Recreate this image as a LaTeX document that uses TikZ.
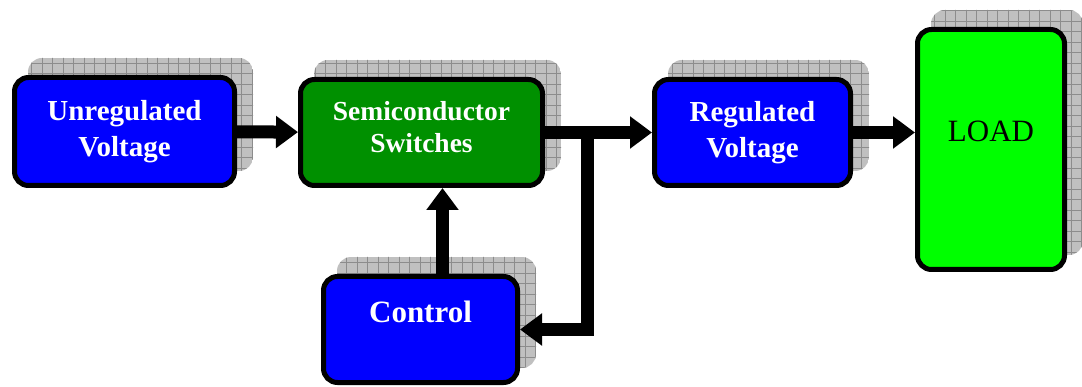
\documentclass[tikz,border=0pt]{standalone}
\usepackage{fontspec}
\setmainfont{Liberation Serif}
\usetikzlibrary{arrows.meta,backgrounds}
\definecolor{boxblue}{RGB}{0,0,255}
\definecolor{switchgreen}{RGB}{0,144,0}
\definecolor{loadgreen}{RGB}{0,255,0}
\definecolor{shadegray}{RGB}{192,192,192}
\definecolor{gridgray}{RGB}{140,140,140}

\begin{document}
\begin{tikzpicture}[x=1pt,y=-1pt,
  block/.style={draw=black,line width=5pt,rounded corners=14pt,text=white,align=center,inner sep=0pt},
  flow/.style={line width=13pt,-{Triangle[width=31pt,length=22pt]}}]
\useasboundingbox (0,0) rectangle (1082,387);

\node[block,fill=boxblue,minimum width=220pt,minimum height=108pt,font=\bfseries\fontsize{29}{36}\selectfont] (unreg) at (124.5,131.5) {Unregulated\\Voltage};
\node[block,fill=switchgreen,minimum width=242pt,minimum height=106pt,font=\bfseries\fontsize{27.5}{32}\selectfont,text depth=12pt] (switch) at (421.5,132.5) {Semiconductor\\Switches};
\node[block,fill=boxblue,minimum width=194pt,minimum height=106pt,font=\bfseries\fontsize{31}{36}\selectfont,text height=21pt,text depth=35pt] (ctrl) at (420.5,329.5) {Control};
\node[block,fill=boxblue,minimum width=196pt,minimum height=106pt,font=\bfseries\fontsize{29}{36}\selectfont] (reg) at (752.5,132.5) {Regulated\\Voltage};
\node[block,fill=loadgreen,text=black,minimum width=147pt,minimum height=240pt,font=\fontsize{31}{36}\selectfont,text height=21pt,text depth=36pt] (load) at (991,149.5) {LOAD};

\begin{scope}[on background layer]
\foreach \n in {unreg,switch,ctrl,reg,load}{
  \begin{scope}
    \clip[rounded corners=14pt] ([shift={(16pt,17pt)}]\n.south west) rectangle ([shift={(16pt,17pt)}]\n.north east);
    \fill[shadegray] ([shift={(16pt,17pt)}]\n.south west) rectangle ([shift={(16pt,17pt)}]\n.north east);
    \draw[gridgray,step=10.5pt,line width=0.4pt] (\n.south west) grid ([shift={(20pt,20pt)}]\n.north east);
  \end{scope}}
\end{scope}

\coordinate (tap) at (587,132.5);
\draw[flow] (unreg) -- (switch);
\draw[flow] (switch) -- (reg);
\draw[flow] (reg) -- (load.west |- reg);
\draw[flow] (tap) |- (ctrl);
\draw[flow] ([xshift=22pt]ctrl.north) -- ([xshift=22pt]ctrl.north |- switch.south);
\end{tikzpicture}
\end{document}
